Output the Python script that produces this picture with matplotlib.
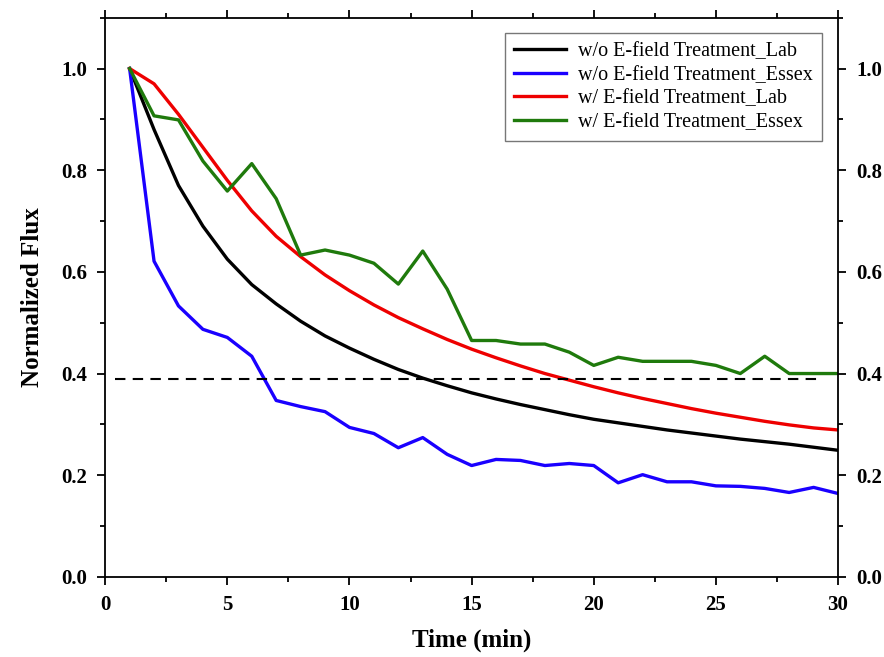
import numpy as np
import matplotlib
matplotlib.use('Agg')
import matplotlib.pyplot as plt
from matplotlib.ticker import MultipleLocator

plt.rcParams['font.family'] = ['Liberation Serif', 'DejaVu Serif']

# time in minutes
t = np.arange(1, 31)

# w/o E-field, lab (smooth fit)
lab_wo = [1.0, 0.88, 0.77, 0.69, 0.625, 0.575, 0.537, 0.503, 0.474, 0.450,
          0.428, 0.408, 0.391, 0.376, 0.362, 0.350, 0.339, 0.329, 0.319, 0.310,
          0.303, 0.296, 0.289, 0.283, 0.277, 0.271, 0.266, 0.261, 0.255, 0.249]
# w/o E-field, Essex
essex_wo = [1.0, 0.621, 0.533, 0.487, 0.471, 0.434, 0.347, 0.335, 0.325, 0.294,
            0.282, 0.254, 0.274, 0.241, 0.219, 0.231, 0.229, 0.219, 0.223, 0.219,
            0.185, 0.201, 0.187, 0.187, 0.179, 0.178, 0.174, 0.166, 0.176, 0.164]
# w/ E-field, lab (smooth fit)
lab_w = [1.0, 0.97, 0.91, 0.845, 0.78, 0.72, 0.67, 0.63, 0.594, 0.563,
         0.535, 0.51, 0.488, 0.467, 0.448, 0.431, 0.415, 0.400, 0.387, 0.374,
         0.362, 0.351, 0.341, 0.331, 0.322, 0.314, 0.306, 0.299, 0.293, 0.289]
# w/ E-field, Essex
essex_w = [1.0, 0.907, 0.899, 0.818, 0.759, 0.813, 0.744, 0.633, 0.643, 0.633,
           0.617, 0.576, 0.641, 0.566, 0.465, 0.465, 0.458, 0.458, 0.442, 0.416,
           0.432, 0.424, 0.424, 0.424, 0.416, 0.400, 0.434, 0.400, 0.400, 0.400]

# reference level (dashed)
ref_x = [0.4, 29.2]
ref_y = [0.39, 0.39]

labels = ['w/o E-field Treatment_Lab', 'w/o E-field Treatment_Essex',
          'w/ E-field Treatment_Lab', 'w/ E-field Treatment_Essex']

fig = plt.figure(figsize=(8.84, 6.57), dpi=100)
ax = fig.add_axes([0.119, 0.122, 0.829, 0.851])

ax.plot(t, lab_wo, color='black', lw=2.4, label=labels[0])
ax.plot(t, essex_wo, color='#1a00ff', lw=2.4, label=labels[1])
ax.plot(t, lab_w, color='#ee0000', lw=2.4, label=labels[2])
ax.plot(t, essex_w, color='#1f7a0c', lw=2.4, label=labels[3])
ax.plot(ref_x, ref_y, color='black', lw=1.5, ls=(0, (5, 3.5)))

ax.set_xlim(0, 30)
ax.set_ylim(0, 1.1)
ax.xaxis.set_major_locator(MultipleLocator(5))
ax.xaxis.set_minor_locator(MultipleLocator(2.5))
ax.yaxis.set_major_locator(MultipleLocator(0.2))
ax.yaxis.set_minor_locator(MultipleLocator(0.1))
ax.yaxis.set_major_formatter(plt.FuncFormatter(lambda v, p: f'{v:.1f}'))

ax.tick_params(which='both', direction='out', left=True, right=True,
               top=True, labelright=True, labeltop=False, width=1.3)
ax.tick_params(which='major', length=6, labelsize=15, pad=7)
ax.tick_params(which='minor', length=3.5)
for lab in ax.get_xticklabels() + ax.get_yticklabels():
    lab.set_fontweight('bold')
for lab in ax.yaxis.get_ticklabels(which='both'):
    lab.set_fontweight('bold')
for s in ax.spines.values():
    s.set_linewidth(1.3)

ax.set_xlabel('Time (min)', fontsize=18, fontweight='bold', labelpad=10)
ax.set_ylabel('Normalized Flux', fontsize=18, fontweight='bold', labelpad=12)

leg = ax.legend(loc='upper right', fontsize=14.5, fancybox=False,
                edgecolor='#555555', handlelength=2.6, borderpad=0.45,
                labelspacing=0.22, handletextpad=0.6, borderaxespad=0,
                bbox_to_anchor=(822 / 884, 1 - 33 / 657),
                bbox_transform=fig.transFigure)
leg.get_frame().set_linewidth(1.0)

plt.savefig('out.png', dpi=100)
